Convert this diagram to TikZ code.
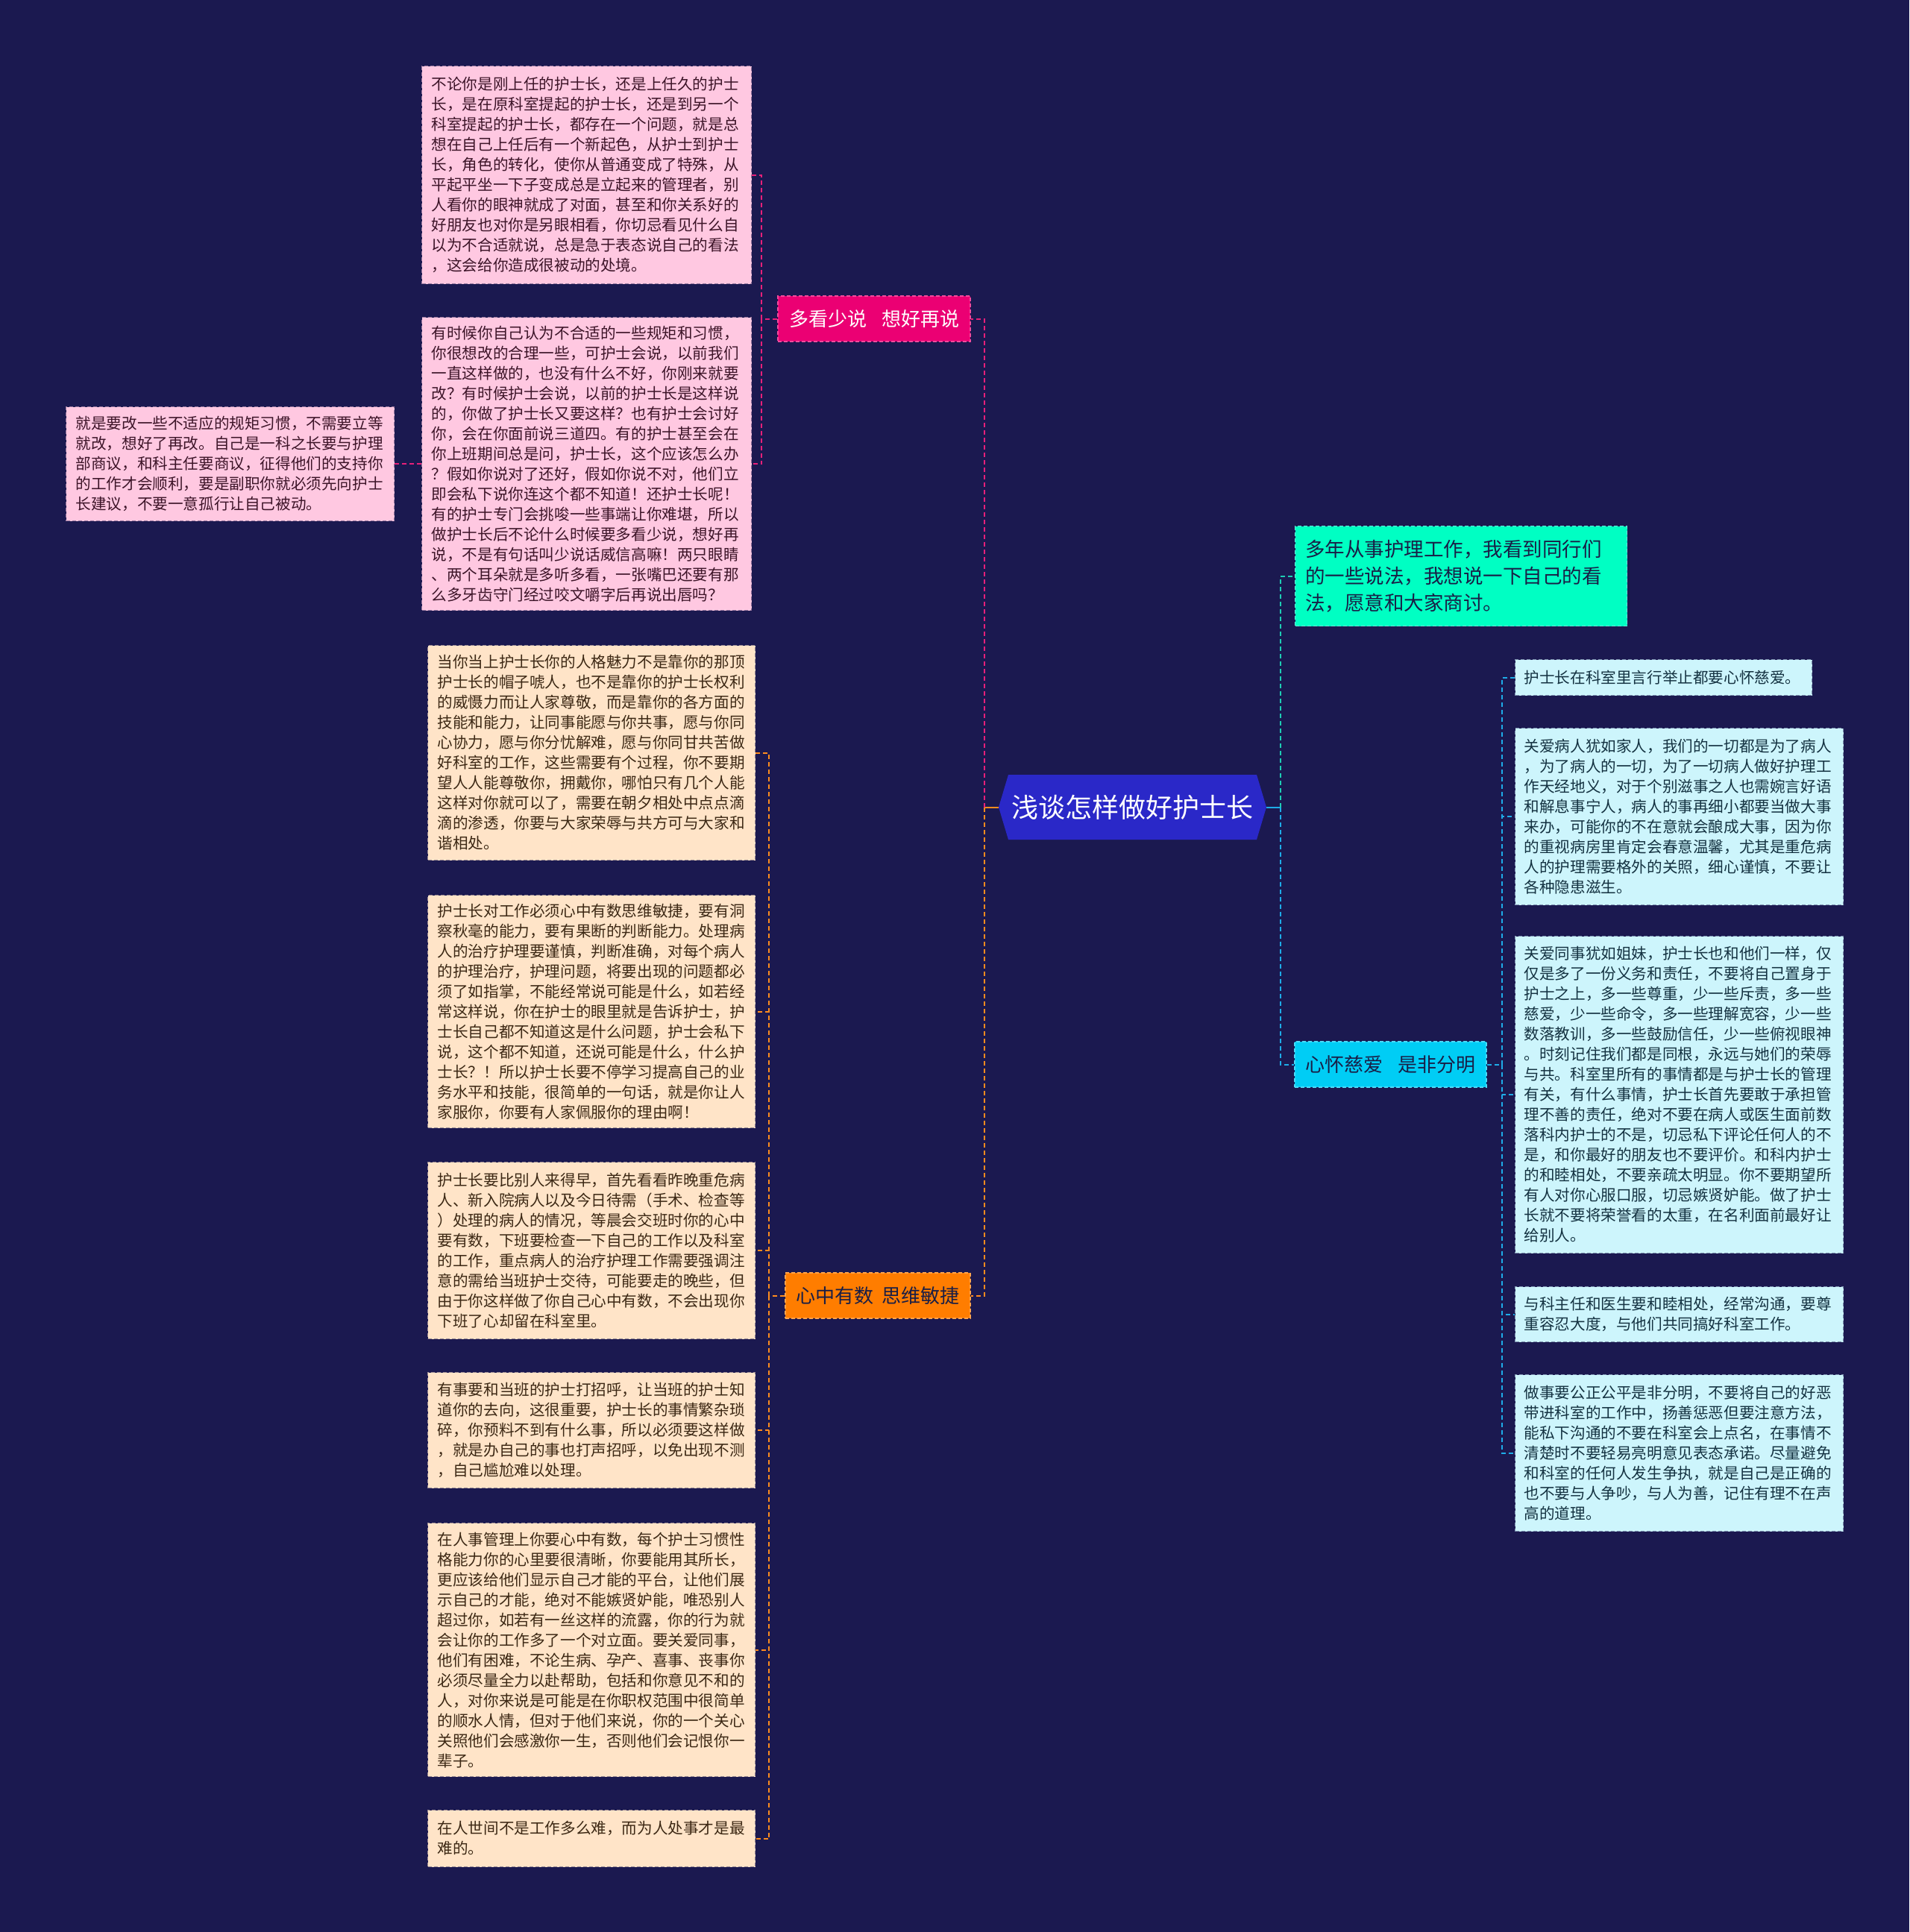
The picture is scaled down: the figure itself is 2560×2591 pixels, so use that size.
\documentclass[tikz,border=0pt]{standalone}
\usepackage{fontspec}
\newfontfamily\cjk{Noto Sans CJK SC}
\definecolor{bg}{RGB}{27,25,80}
\definecolor{rootfill}{RGB}{42,40,200}
\definecolor{pinkc}{RGB}{232,32,122}
\definecolor{orangec}{RGB}{255,140,30}
\definecolor{greenc}{RGB}{30,205,180}
\definecolor{bluec}{RGB}{30,172,232}
\definecolor{pinkbr}{RGB}{235,0,115}
\definecolor{orangebr}{RGB}{255,125,0}
\definecolor{cyanbr}{RGB}{0,205,245}
\definecolor{greenbox}{RGB}{0,255,195}
\definecolor{pinkfill}{RGB}{255,200,225}
\definecolor{peachfill}{RGB}{255,228,200}
\definecolor{cyanfill}{RGB}{205,245,252}
\definecolor{pinktext}{RGB}{60,20,40}
\definecolor{peachtext}{RGB}{60,40,20}
\definecolor{cyantext}{RGB}{20,50,65}
\definecolor{darktext}{RGB}{25,30,70}
\tikzset{
  box/.style={rectangle, anchor=north west, inner xsep=13pt, inner ysep=0pt, align=left,
    dash pattern=on 5pt off 3pt, line width=1.2pt,
    font=\cjk\fontsize{20.6}{27}\selectfont},
  pinkbox/.style={box, fill=pinkfill, draw=pinkfill!55!bg, text=pinktext},
  peachbox/.style={box, fill=peachfill, draw=peachfill!55!bg, text=peachtext},
  cyanbox/.style={box, fill=cyanfill, draw=cyanfill!55!bg, text=cyantext},
  branch/.style={rectangle, inner sep=0pt, minimum height=61pt,
    font=\cjk\fontsize{26}{30}\selectfont, dash pattern=on 5pt off 3pt, line width=1.2pt},
  conn/.style={line width=2pt, dash pattern=on 6pt off 4pt},
}
\begin{document}
\begin{tikzpicture}[x=1pt,y=-1pt]
\useasboundingbox (0,0) rectangle (2560,2591);
\fill[bg] (0,0) rectangle (2560,2591);

% root hexagon
\fill[rootfill] (1339,1082.5) -- (1352,1039) -- (1685,1039) -- (1698,1082.5) -- (1685,1126) -- (1352,1126) -- cycle;
\node[rectangle, inner sep=0pt, minimum width=359pt, minimum height=87pt, text=white,
  font=\cjk\fontsize{36}{40}\selectfont] (root) at (1518.5,1082.5) {浅谈怎样做好护士长};

% branch nodes
\node[branch, fill=pinkbr, draw=pinkbr!70!white, text=white, minimum width=258pt] (pb) at (1172,427.5) {多看少说\hspace{20pt}想好再说};
\node[branch, fill=orangebr, draw=orangebr!70!white, text=darktext, minimum width=248pt] (ob) at (1177,1737.5) {心中有数\hspace{12pt}思维敏捷};
\node[branch, fill=cyanbr, draw=cyanbr!70!white, text=darktext, minimum width=257pt] (cb) at (1864.5,1427.5) {心怀慈爱\hspace{20pt}是非分明};
\node[rectangle, anchor=north west, align=left, inner xsep=13.5pt, inner ysep=0pt,
  text width=418pt, minimum height=134pt, fill=greenbox, draw=greenbox!60!white,
  dash pattern=on 5pt off 3pt, line width=1.2pt, text=darktext,
  font=\cjk\fontsize{26.5}{36}\selectfont] (gb) at (1736,705)
  {多年从事护理工作，我看到同行们\\的一些说法，我想说一下自己的看\\法，愿意和大家商讨。};

% pink boxes
\node[pinkbox, text width=416pt, minimum height=292pt] (p1) at (565,88) {不论你是刚上任的护士长，还是上任久的护士\\长，是在原科室提起的护士长，还是到另一个\\科室提起的护士长，都存在一个问题，就是总\\想在自己上任后有一个新起色，从护士到护士\\长，角色的转化，使你从普通变成了特殊，从\\平起平坐一下子变成总是立起来的管理者，别\\人看你的眼神就成了对面，甚至和你关系好的\\好朋友也对你是另眼相看，你切忌看见什么自\\以为不合适就说，总是急于表态说自己的看法\\，这会给你造成很被动的处境。};
\node[pinkbox, text width=416pt, minimum height=393pt] (p2) at (565,425) {有时候你自己认为不合适的一些规矩和习惯，\\你很想改的合理一些，可护士会说，以前我们\\一直这样做的，也没有什么不好，你刚来就要\\改？有时候护士会说，以前的护士长是这样说\\的，你做了护士长又要这样？也有护士会讨好\\你，会在你面前说三道四。有的护士甚至会在\\你上班期间总是问，护士长，这个应该怎么办\\？假如你说对了还好，假如你说不对，他们立\\即会私下说你连这个都不知道！还护士长呢！\\有的护士专门会挑唆一些事端让你难堪，所以\\做护士长后不论什么时候要多看少说，想好再\\说，不是有句话叫少说话威信高嘛！两只眼睛\\、两个耳朵就是多听多看，一张嘴巴还要有那\\么多牙齿守门经过咬文嚼字后再说出唇吗？};
\node[pinkbox, text width=414pt, minimum height=153pt] (p3) at (88,545) {就是要改一些不适应的规矩习惯，不需要立等\\就改，想好了再改。自己是一科之长要与护理\\部商议，和科主任要商议，征得他们的支持你\\的工作才会顺利，要是副职你就必须先向护士\\长建议，不要一意孤行让自己被动。};

% peach boxes
\node[peachbox, text width=413pt, minimum height=288pt] (o1) at (573,865) {当你当上护士长你的人格魅力不是靠你的那顶\\护士长的帽子唬人，也不是靠你的护士长权利\\的威慑力而让人家尊敬，而是靠你的各方面的\\技能和能力，让同事能愿与你共事，愿与你同\\心协力，愿与你分忧解难，愿与你同甘共苦做\\好科室的工作，这些需要有个过程，你不要期\\望人人能尊敬你，拥戴你，哪怕只有几个人能\\这样对你就可以了，需要在朝夕相处中点点滴\\滴的渗透，你要与大家荣辱与共方可与大家和\\谐相处。};
\node[peachbox, text width=413pt, minimum height=312pt] (o2) at (573,1200) {护士长对工作必须心中有数思维敏捷，要有洞\\察秋毫的能力，要有果断的判断能力。处理病\\人的治疗护理要谨慎，判断准确，对每个病人\\的护理治疗，护理问题，将要出现的问题都必\\须了如指掌，不能经常说可能是什么，如若经\\常这样说，你在护士的眼里就是告诉护士，护\\士长自己都不知道这是什么问题，护士会私下\\说，这个都不知道，还说可能是什么，什么护\\士长？！所以护士长要不停学习提高自己的业\\务水平和技能，很简单的一句话，就是你让人\\家服你，你要有人家佩服你的理由啊！};
\node[peachbox, text width=413pt, minimum height=237pt] (o3) at (573,1558) {护士长要比别人来得早，首先看看昨晚重危病\\人、新入院病人以及今日待需（手术、检查等\\）处理的病人的情况，等晨会交班时你的心中\\要有数，下班要检查一下自己的工作以及科室\\的工作，重点病人的治疗护理工作需要强调注\\意的需给当班护士交待，可能要走的晚些，但\\由于你这样做了你自己心中有数，不会出现你\\下班了心却留在科室里。};
\node[peachbox, text width=413pt, minimum height=155pt] (o4) at (573,1840) {有事要和当班的护士打招呼，让当班的护士知\\道你的去向，这很重要，护士长的事情繁杂琐\\碎，你预料不到有什么事，所以必须要这样做\\，就是办自己的事也打声招呼，以免出现不测\\，自己尴尬难以处理。};
\node[peachbox, text width=413pt, minimum height=340pt] (o5) at (573,2042) {在人事管理上你要心中有数，每个护士习惯性\\格能力你的心里要很清晰，你要能用其所长，\\更应该给他们显示自己才能的平台，让他们展\\示自己的才能，绝对不能嫉贤妒能，唯恐别人\\超过你，如若有一丝这样的流露，你的行为就\\会让你的工作多了一个对立面。要关爱同事，\\他们有困难，不论生病、孕产、喜事、丧事你\\必须尽量全力以赴帮助，包括和你意见不和的\\人，对你来说是可能是在你职权范围中很简单\\的顺水人情，但对于他们来说，你的一个关心\\关照他们会感激你一生，否则他们会记恨你一\\辈子。};
\node[peachbox, text width=413pt, minimum height=76pt] (o6) at (573,2427) {在人世间不是工作多么难，而为人处事才是最\\难的。};

% cyan boxes
\node[cyanbox, inner xsep=12pt, text width=374pt, minimum height=48pt] (r1) at (2031,884) {护士长在科室里言行举止都要心怀慈爱。};
\node[cyanbox, inner xsep=12pt, text width=416pt, minimum height=237pt] (r2) at (2031,976) {关爱病人犹如家人，我们的一切都是为了病人\\，为了病人的一切，为了一切病人做好护理工\\作天经地义，对于个别滋事之人也需婉言好语\\和解息事宁人，病人的事再细小都要当做大事\\来办，可能你的不在意就会酿成大事，因为你\\的重视病房里肯定会春意温馨，尤其是重危病\\人的护理需要格外的关照，细心谨慎，不要让\\各种隐患滋生。};
\node[cyanbox, inner xsep=12pt, text width=416pt, minimum height=425pt] (r3) at (2031,1255) {关爱同事犹如姐妹，护士长也和他们一样，仅\\仅是多了一份义务和责任，不要将自己置身于\\护士之上，多一些尊重，少一些斥责，多一些\\慈爱，少一些命令，多一些理解宽容，少一些\\数落教训，多一些鼓励信任，少一些俯视眼神\\。时刻记住我们都是同根，永远与她们的荣辱\\与共。科室里所有的事情都是与护士长的管理\\有关，有什么事情，护士长首先要敢于承担管\\理不善的责任，绝对不要在病人或医生面前数\\落科内护士的不是，切忌私下评论任何人的不\\是，和你最好的朋友也不要评价。和科内护士\\的和睦相处，不要亲疏太明显。你不要期望所\\有人对你心服口服，切忌嫉贤妒能。做了护士\\长就不要将荣誉看的太重，在名利面前最好让\\给别人。};
\node[cyanbox, inner xsep=12pt, text width=416pt, minimum height=74pt] (r4) at (2031,1725) {与科主任和医生要和睦相处，经常沟通，要尊\\重容忍大度，与他们共同搞好科室工作。};
\node[cyanbox, inner xsep=12pt, text width=416pt, minimum height=210pt] (r5) at (2031,1843) {做事要公正公平是非分明，不要将自己的好恶\\带进科室的工作中，扬善惩恶但要注意方法，\\能私下沟通的不要在科室会上点名，在事情不\\清楚时不要轻易亮明意见表态承诺。尽量避免\\和科室的任何人发生争执，就是自己是正确的\\也不要与人争吵，与人为善，记住有理不在声\\高的道理。};

% connectors from root
\coordinate (Lbus) at (1320,1082.5);
\coordinate (Rbus) at (1717,1082.5);
\draw[orangec, line width=2pt] (root.west) -- (Lbus);
\draw[pinkc, conn] (Lbus) |- (pb.east);
\draw[orangec, conn] (Lbus) |- (ob.east);
\draw[bluec, line width=2pt] (root.east) -- (Rbus);
\draw[greenc, conn] (Rbus) |- (gb.west);
\draw[bluec, conn] (Rbus) |- (cb.west);

% pink branch
\draw[pinkc, conn] (pb.west) -- ++(-21,0) coordinate (pbus);
\draw[pinkc, conn] (pbus) |- (p1.east);
\draw[pinkc, conn] (pbus) |- (p2.east);
\draw[pinkc, conn] (p2.west) -- (p3.east);

% orange branch
\draw[orangec, conn] (ob.west) -- ++(-21,0) coordinate (obus);
\foreach \n in {o1,o2,o3,o4,o5,o6} {\draw[orangec, conn] (obus) |- (\n.east);}

% cyan branch
\draw[bluec, conn] (cb.east) -- ++(20,0) coordinate (cbus);
\foreach \n in {r1,r2,r3,r4,r5} {\draw[bluec, conn] (cbus) |- (\n.west);}
\end{tikzpicture}
\end{document}
